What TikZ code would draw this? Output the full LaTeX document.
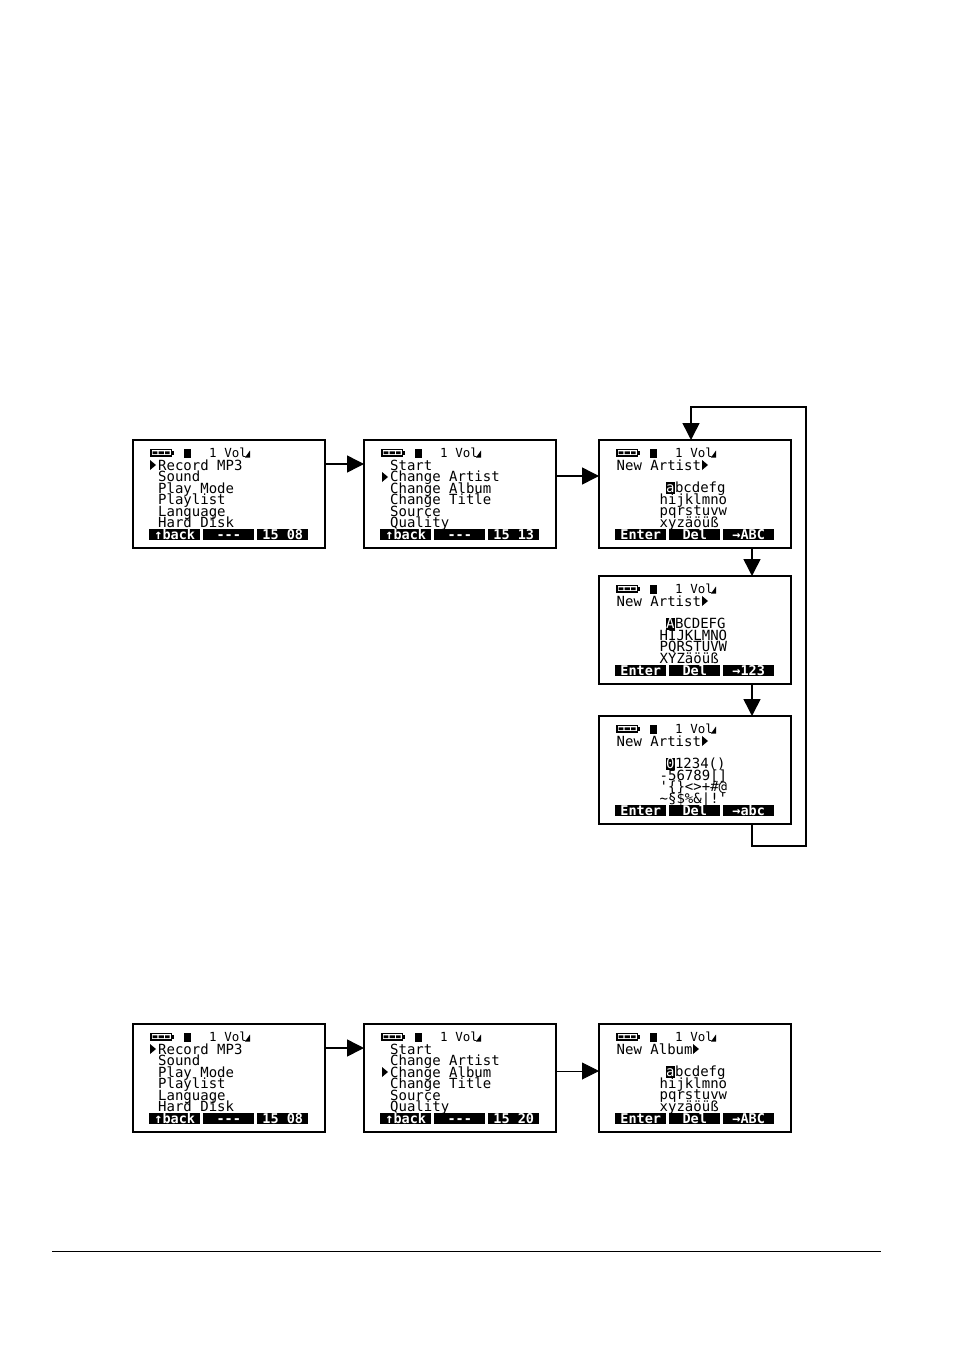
\documentclass[tikz,border=0pt]{standalone}
\usepackage{fontspec}
\setmonofont{DejaVu Sans Mono}
\usetikzlibrary{arrows.meta}
\tikzset{
  lcdbox/.style={draw=black,line width=1.5pt,fill=white,minimum width=192pt,minimum height=108pt,inner sep=0pt,outer sep=0pt,anchor=north west},
  lcdline/.style={anchor=west,inner sep=0pt,yshift=-0.6pt,text height=10.5pt,text depth=1pt,font=\ttfamily\fontsize{14}{14}\selectfont,text=black},
  statustext/.style={anchor=west,inner sep=0pt,text height=9pt,text depth=0.5pt,font=\ttfamily\fontsize{12.5}{12.5}\selectfont,text=black},
  softkey/.style={anchor=north west,fill=black,text=white,inner sep=0pt,minimum width=51pt,minimum height=11.5pt,text height=9.6pt,text depth=0.5pt,font=\ttfamily\bfseries\fontsize{13.5}{13.5}\selectfont},
  cursorchar/.style={anchor=west,fill=black,text=white,inner sep=0pt,yshift=-0.6pt,minimum width=8.5pt,text height=10.5pt,text depth=1pt,font=\ttfamily\fontsize{14}{14}\selectfont},
  flow/.style={draw=black,line width=1.5pt,-{Triangle[length=17pt,width=17pt]}},
  thinflow/.style={draw=black,line width=0.9pt,-{Triangle[length=17pt,width=17pt]}},
  ruleline/.style={draw=black,line width=0.7pt}
}
% name, left, top, key1, key2, key3
\newcommand{\lcdscreen}[6]{%
  \node[lcdbox] (#1) at (#2,#3) {};
  \begin{scope}[shift={(#2,#3)}]
    \fill[black] (17,9) rectangle (39,16.5);
    \fill[black] (39,10.5) rectangle (41,15);
    \fill[white] (18.5,10.3) rectangle (37.7,15.2);
    \fill[black] (19.5,11.3) rectangle (24.3,14.2) (25.6,11.3) rectangle (30.8,14.2) (32.1,11.3) rectangle (36.7,14.2);
    \fill[black] (51,9) rectangle (58,18);
    \node[statustext] (#1v) at (76,13) {1 Vol};
    \fill[black] (112,17.5) -- (117,10.5) -- (117,17.5) -- cycle;
    \node[softkey] (#1ka) at (16,88.5) {#4};
    \node[softkey] (#1kb) at (70,88.5) {#5};
    \node[softkey] (#1kc) at (124,88.5) {#6};
  \end{scope}}
\newcommand{\marker}[2]{\fill[black] (#1,#2-5) -- (#1+6,#2) -- (#1,#2+5) -- cycle;}
% name, left, top, word
\newcommand{\entryhead}[4]{%
  \begin{scope}[shift={(#2,#3)}]
    \node[lcdline] (#1h) at (17.5,25) {#4};
  \end{scope}}
% name, left, top, first char, rest, three lines
\newcommand{\entrygrid}[8]{%
  \begin{scope}[shift={(#2,#3)}]
    \node[cursorchar] (#1gz) at (67,47.5) {#4};
    \node[lcdline] (#1ga) at (75.8,47.5) {#5};
    \node[lcdline] (#1gb) at (60.5,59) {#6};
    \node[lcdline] (#1gc) at (60.5,70.5) {#7};
    \node[lcdline] (#1gd) at (60.5,82) {#8};
  \end{scope}}
\newcommand{\mainmenu}[3]{%
  \begin{scope}[shift={(#2,#3)}]
    \marker{17}{25}
    \node[lcdline] (#1a) at (25,25) {Record MP3};
    \node[lcdline] (#1b) at (25,36.5) {Sound};
    \node[lcdline] (#1c) at (25,48) {Play Mode};
    \node[lcdline] (#1d) at (25,59.5) {Playlist};
    \node[lcdline] (#1e) at (25,71) {Language};
    \node[lcdline] (#1f) at (25,82.5) {Hard Disk};
  \end{scope}}
\begin{document}
\begin{tikzpicture}[x=1pt,y=-1pt]
\useasboundingbox (0,0) rectangle (954,1351);
\fill[white] (0,0) rectangle (954,1351);
% upper row
\lcdscreen{sa}{133}{440}{↑back}{---}{15 08}
\mainmenu{sa}{133}{440}
\lcdscreen{sb}{364}{440}{↑back}{---}{15 13}
\begin{scope}[shift={(364,440)}]
  \marker{18}{37}
  \node[lcdline] (sbA) at (26,25) {Start};
  \node[lcdline] (sbB) at (26,36.5) {Change Artist};
  \node[lcdline] (sbC) at (26,48) {Change Album};
  \node[lcdline] (sbD) at (26,59.5) {Change Title};
  \node[lcdline] (sbE) at (26,71) {Source};
  \node[lcdline] (sbF) at (26,82.5) {Quality};
\end{scope}
\lcdscreen{sc}{599}{440}{Enter}{Del}{→ABC}
\entryhead{sc}{599}{440}{New Artist}
\marker{702}{465}
\entrygrid{sc}{599}{440}{a}{bcdefg}{hijklmno}{pqrstuvw}{xyzäöüß}
\lcdscreen{sd}{599}{576}{Enter}{Del}{→123}
\entryhead{sd}{599}{576}{New Artist}
\marker{702}{601}
\entrygrid{sd}{599}{576}{A}{BCDEFG}{HIJKLMNO}{PQRSTUVW}{XYZäöüß}
\lcdscreen{se}{599}{716}{Enter}{Del}{→abc}
\entryhead{se}{599}{716}{New Artist}
\marker{702}{741}
\entrygrid{se}{599}{716}{0}{1234()}{-56789[]}{'\{\}<>+\#@}{\textasciitilde§\$\%\&|!'}
% lower row
\lcdscreen{ta}{133}{1024}{↑back}{---}{15 08}
\mainmenu{ta}{133}{1024}
\lcdscreen{tb}{364}{1024}{↑back}{---}{15 20}
\begin{scope}[shift={(364,1024)}]
  \marker{18}{48}
  \node[lcdline] (tbA) at (26,25) {Start};
  \node[lcdline] (tbB) at (26,36.5) {Change Artist};
  \node[lcdline] (tbC) at (26,48) {Change Album};
  \node[lcdline] (tbD) at (26,59.5) {Change Title};
  \node[lcdline] (tbE) at (26,71) {Source};
  \node[lcdline] (tbF) at (26,82.5) {Quality};
\end{scope}
\lcdscreen{tc}{599}{1024}{Enter}{Del}{→ABC}
\entryhead{tc}{599}{1024}{New Album}
\marker{693}{1049}
\entrygrid{tc}{599}{1024}{a}{bcdefg}{hijklmno}{pqrstuvw}{xyzäöüß}
% connectors
\draw[flow] ([yshift=30pt]sa.east) -- ([yshift=30pt]sb.west);
\draw[flow] ([yshift=18pt]sb.east) -- ([yshift=18pt]sc.west);
\draw[flow] ([xshift=57pt]sc.south) -- ([xshift=57pt]sd.north);
\draw[flow] ([xshift=57pt]sd.south) -- ([xshift=57pt]se.north);
\coordinate (loopb) at (806,846);
\coordinate (loopc) at (806,407);
\coordinate (loopd) at (691,407);
\draw[flow] ([xshift=57pt]se.south) |- (loopb) -- (loopc) -- (loopd) -- (loopd |- sc.north);
\draw[flow] ([yshift=30pt]ta.east) -- ([yshift=30pt]tb.west);
\draw[thinflow] ([yshift=7pt]tb.east) -- ([yshift=7pt]tc.west);
% page rule
\coordinate (rulea) at (52,1251);
\coordinate (ruleb) at (881,1251);
\draw[ruleline] (rulea) -- (ruleb);
\end{tikzpicture}
\end{document}
